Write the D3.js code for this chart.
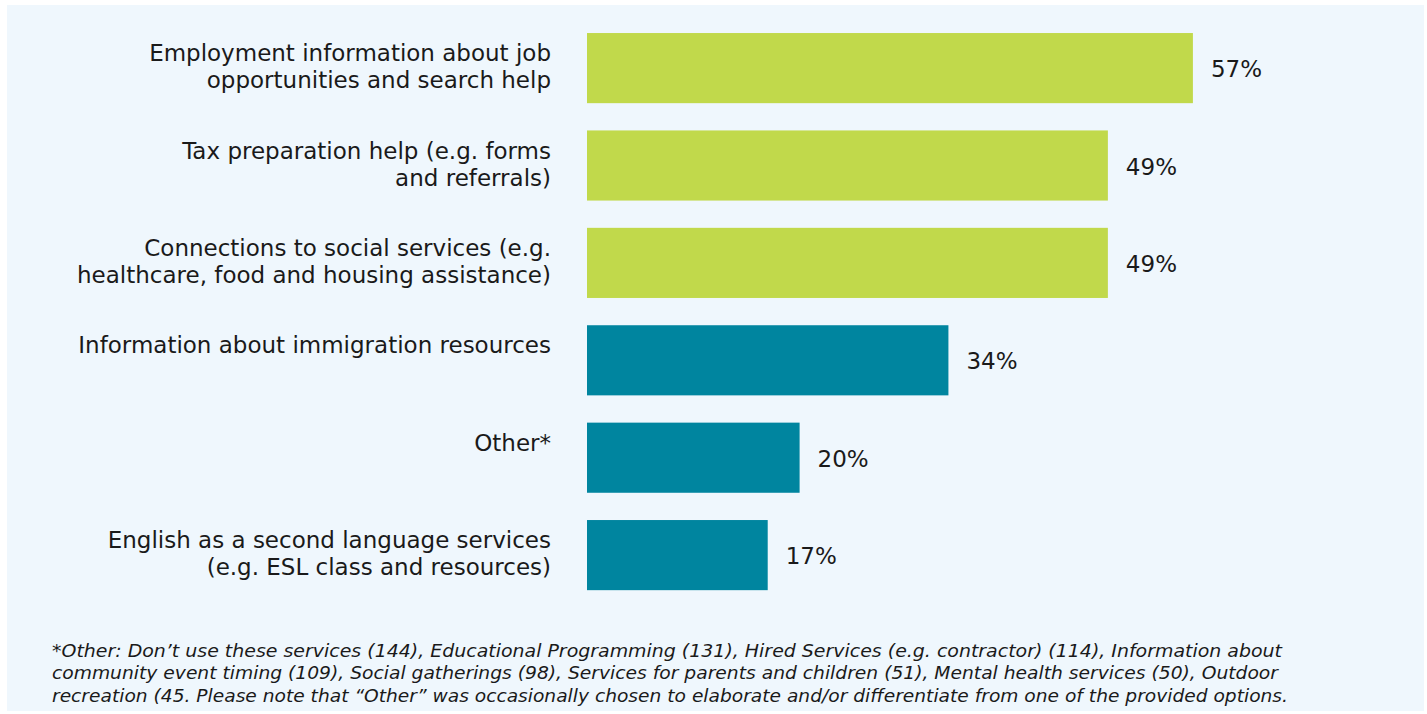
<!DOCTYPE html>
<html><head><meta charset="utf-8">
<script src="https://cdn.jsdelivr.net/npm/d3@7"></script>
<style>
html,body{margin:0;padding:0;background:#fff;}
svg{display:block;}
</style></head>
<body>
<svg id="chart" width="1427" height="714"></svg>
<script>
const categories = [
  "Employment information about job opportunities and search help",
  "Tax preparation help (e.g. forms and referrals)",
  "Connections to social services (e.g. healthcare, food and housing assistance)",
  "Information about immigration resources",
  "Other*",
  "English as a second language services (e.g. ESL class and resources)"
];
const labelLines = [
  ["Employment information about job", "opportunities and search help"],
  ["Tax preparation help (e.g. forms", "and referrals)"],
  ["Connections to social services (e.g.", "healthcare, food and housing assistance)"],
  ["Information about immigration resources"],
  ["Other*"],
  ["English as a second language services", "(e.g. ESL class and resources)"]
];
const values = [57, 49, 49, 34, 20, 17];
const groups = ["top", "top", "top", "rest", "rest", "rest"];
const footnoteLines = [
  "*Other: Don\u2019t use these services (144), Educational Programming (131), Hired Services (e.g. contractor) (114), Information about",
  "community event timing (109), Social gatherings (98), Services for parents and children (51), Mental health services (50), Outdoor",
  "recreation (45. Please note that \u201cOther\u201d was occasionally chosen to elaborate and/or differentiate from one of the provided options."
];
const footnoteWidths = [1230, 1226, 1236];

const svg = d3.select("#chart");
svg.append("rect").attr("x", 7).attr("y", 5).attr("width", 1417).attr("height", 706).attr("fill", "#EFF7FD");

const x = d3.scaleLinear().domain([0, 100]).range([587, 1650]);
const y = d3.scaleBand().domain(categories).range([19.4, 603.8]).paddingInner(0.28).paddingOuter(0.14);
const color = d3.scaleOrdinal().domain(["top", "rest"]).range(["#C1D94B", "#00859F"]);

const data = categories.map((c, i) => ({c, v: values[i], g: groups[i], lines: labelLines[i]}));

svg.selectAll("rect.bar").data(data).join("rect").attr("class", "bar")
  .attr("x", x(0)).attr("y", d => y(d.c))
  .attr("width", d => x(d.v) - x(0)).attr("height", y.bandwidth())
  .attr("fill", d => color(d.g));

svg.selectAll("text.val").data(data).join("text").attr("class", "val")
  .attr("x", d => x(d.v) + 18).attr("y", d => y(d.c) + y.bandwidth() / 2 + 9)
  .attr("font-family", "DejaVu Sans, Verdana, sans-serif").attr("font-size", 23)
  .attr("fill", "#1a1a1a").text(d => d.v + "%");

const lab = svg.selectAll("text.lab").data(data).join("text").attr("class", "lab")
  .attr("font-family", "DejaVu Sans, Verdana, sans-serif").attr("font-size", 23)
  .attr("fill", "#1a1a1a").attr("text-anchor", "end")
  .attr("transform", d => `translate(551,${y(d.c) + y.bandwidth() / 2 - 7})`);
lab.selectAll("tspan").data(d => d.lines).join("tspan")
  .attr("x", 0).attr("dy", (d, i) => i === 0 ? 0 : 27).text(d => d);

svg.append("g").selectAll("text").data(footnoteLines).join("text")
  .attr("x", 52).attr("y", (d, i) => 657 + i * 22.3)
  .attr("font-family", "DejaVu Sans, sans-serif")
  .attr("font-style", "italic").attr("font-size", 17).attr("fill", "#1a1a1a")
  .attr("textLength", (d, i) => footnoteWidths[i]).attr("lengthAdjust", "spacingAndGlyphs")
  .text(d => d);
</script>
</body></html>
